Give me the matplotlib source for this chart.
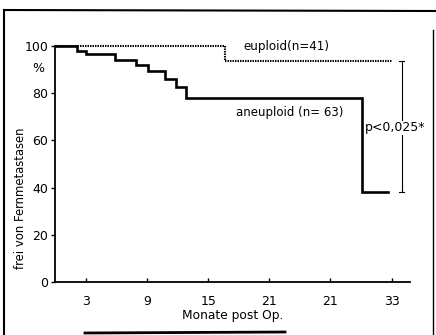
import matplotlib
matplotlib.use("Agg")
import matplotlib.pyplot as plt
from matplotlib.lines import Line2D

# Data
aneu_months = [0, 2.1, 3.0, 5.9, 7.9, 9.1, 10.8, 11.8, 12.8, 30.1, 32.7]
aneu_surv = [100, 98, 96.5, 94, 92, 89.5, 86, 82.5, 78, 38, 38]
eu_months = [0, 16.7, 33.0]
eu_surv = [100, 93.5, 93.5]
x_ticks = [3, 9, 15, 21, 27, 33]
x_ticklabels = ["3", "9", "15", "21", "21", "33"]
y_ticks = [0, 20, 40, 60, 80, 100]

plt.rcParams['font.family'] = ['DejaVu Sans']

fig = plt.figure(figsize=(4.36, 3.35), dpi=100)
ax = fig.add_axes([0.127, 0.158, 0.813, 0.712])

ax.step(aneu_months, aneu_surv, where='post', color='black', lw=1.9, solid_joinstyle='miter', zorder=3)
ax.step(eu_months, eu_surv, where='post', color='black', lw=1.5, linestyle=(0, (0.7, 0.5)), zorder=4)

ax.set_xlim(0, 34.8)
ax.set_ylim(0, 101)
ax.set_xticks(x_ticks)
ax.set_xticklabels(x_ticklabels)
ax.set_yticks(y_ticks)
for s in ['top', 'right']:
    ax.spines[s].set_visible(False)
ax.spines['left'].set_bounds(0, 100)
ax.spines['left'].set_linewidth(1.3)
ax.spines['bottom'].set_linewidth(1.3)
ax.tick_params(axis='y', direction='out', length=3, width=1, labelsize=9, pad=2)
ax.tick_params(axis='x', direction='in', length=3, width=1, labelsize=9, pad=9)

ax.set_xlabel("Monate post Op.", fontsize=8.8, labelpad=1)
fig.text(20 / 436, 1 - 198 / 335, "frei von Fernmetastasen", fontsize=8.4,
         rotation=90, ha='center', va='center')
ax.text(-1.7, 90.5, "%", fontsize=9, ha='center', va='center', clip_on=False)

ax.text(22.7, 99.8, "euploid(n=41)", fontsize=8.6, ha='center', va='center')
ax.text(23.0, 71.6, "aneuploid (n= 63)", fontsize=8.5, ha='center', va='center')

# significance bracket
bx = 34.0
ax.plot([bx, bx], [93.5, 38], color='black', lw=0.8, clip_on=False, zorder=2)
ax.plot([bx - 0.25, bx + 0.25], [93.5, 93.5], color='black', lw=0.8, clip_on=False)
ax.plot([bx - 0.25, bx + 0.25], [38, 38], color='black', lw=0.8, clip_on=False)
ax.text(30.35, 65.3, "p<0,025*", fontsize=9, ha='left', va='center', clip_on=False, zorder=2.5,
        bbox=dict(facecolor='white', edgecolor='none', pad=0.5))

# outer frame of scanned figure
W, H = 436.0, 335.0
def fl(x0, y0, x1, y1, lw):
    fig.add_artist(Line2D([x0 / W, x1 / W], [1 - y0 / H, 1 - y1 / H],
                          color='black', lw=lw, transform=fig.transFigure))
fl(4, 10, 436, 11, 1.5)
fl(4, 10, 4, 335, 1.5)
fl(433, 30, 433, 335, 1.0)
fl(85, 333, 285, 332, 2.0)

fig.savefig("out.png", dpi=100)
